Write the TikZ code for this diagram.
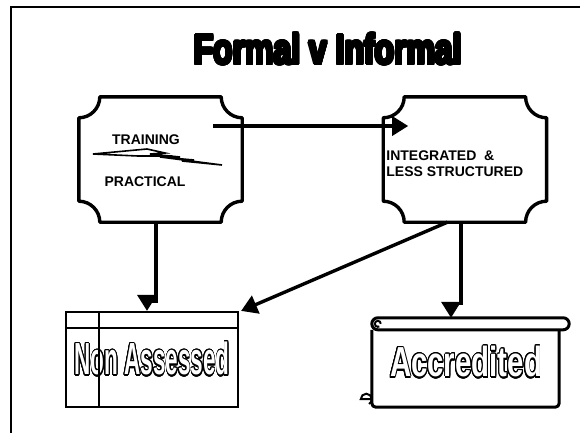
\documentclass[tikz,border=0pt]{standalone}
\usepackage{fontspec}
\setmainfont{Liberation Sans}
\usepackage{graphicx}
\usepackage{contour}
\usetikzlibrary{calc}
\usetikzlibrary{positioning}
\usetikzlibrary{arrows.meta}
\contournumber{24}
\tikzset{
	>={Triangle[length=16pt,width=19pt]},
	plaquebox/.style={
		rectangle,
		minimum width=163pt,
		minimum height=125pt,
		inner sep=0pt},
	plaqueline/.style={draw=black, line width=3.4pt, line join=round},
	boxtext/.style={font=\bfseries\fontsize{14}{16}\selectfont, inner sep=0pt},
	line/.style={draw, line width=3.4pt, ->},
	tablebox/.style={
		rectangle,
		draw=black, line width=2.2pt,
		minimum width=172pt,
		minimum height=95pt,
		inner sep=0pt},
	scrollbox/.style={
		rectangle,
		minimum width=186pt,
		minimum height=89pt,
		inner sep=0pt},
	scrollline/.style={draw=black, line width=3pt, line join=round},
	bigword/.style={inner sep=0pt, font=\bfseries},
}
% hollow letters for the box titles
\newcommand{\hollow}[1]{\contourlength{1.4pt}\contour{black}{\textcolor{white}{#1}}}
\newcommand{\solidword}[1]{\contourlength{1.8pt}\contour{black}{#1}}
% notched outline round a plaquebox
\newcommand{\drawplaque}[1]{%
	\draw[plaqueline] ($(#1.north west)+(21,0)$) -- ($(#1.north east)+(-21,0)$)
		arc[start angle=180,end angle=270,radius=21pt]
		-- ($(#1.south east)+(0,21)$)
		arc[start angle=90,end angle=180,radius=21pt]
		-- ($(#1.south west)+(21,0)$)
		arc[start angle=0,end angle=90,radius=21pt]
		-- ($(#1.north west)+(0,-21)$)
		arc[start angle=270,end angle=360,radius=21pt]
		-- cycle;}
% scroll outline round a scrollbox
\newcommand{\drawscroll}[1]{%
	\draw[scrollline, rounded corners=6pt] ($(#1.north west)+(-1,-12)$) rectangle ($(#1.north east)+(10,0)$);
	\draw[line width=2pt] ($(#1.north west)+(8,-6)$) arc[start angle=0,end angle=300,radius=3pt];
	\draw[scrollline, rounded corners=4pt] ($(#1.north west)+(-1,-12)$) -- ($(#1.south west)+(-1,0)$)
		-- ($(#1.south east)+(0,0)$) -- ($(#1.north east)+(0,-12)$);
	\draw[line width=2pt] ($(#1.south west)+(-1,8)$) -- ($(#1.south west)+(-12,8)$)
		arc[start angle=180,end angle=-60,radius=5.5pt];}

\begin{document}
\begin{tikzpicture}[x=1pt, y=1pt]
	\useasboundingbox (0,0) rectangle (580,432);
	\draw[line width=1.6pt] (11,-5) -- (11,425) -- (590,425);

	\node[bigword] (title) at (328,382) {\scalebox{0.76}[1]{\fontsize{42}{42}\selectfont\solidword{Formal v Informal}}};

	\node[plaquebox] (train) at (160.5,272.5) {};
	\node[plaquebox, right=141pt of train] (integ) {};
	\drawplaque{train}
	\drawplaque{integ}

	\node[boxtext] (trtext) at ([shift={(-14.5,19.5)}]train.center) {TRAINING};
	\node[boxtext] (prtext) at ([shift={(-15.5,-22.5)}]train.center) {PRACTICAL};
	\node[boxtext, align=left, anchor=west] (intext) at ([shift={(3,-4.5)}]integ.west) {INTEGRATED~~\&\\LESS STRUCTURED};

	% zigzag between the two words
	\draw[line width=1.6pt, line join=miter] (93,278) -- (147,283) -- (165,279) -- (150,278) -- (180,275) -- (168,274)
		-- (222,267) -- (182,271) -- (194,272) -- (160,275) -- (172,276) -- (138,276) -- cycle;

	\node[tablebox] (nonass) at (152,72.5) {\scalebox{0.5}[1]{\fontsize{45}{45}\selectfont\bfseries\hollow{Non Assessed}}};
	\draw[line width=2.2pt] ([yshift=-17]nonass.north west) -- ([yshift=-17]nonass.north east);
	\draw[line width=2.2pt] ([xshift=34]nonass.north west) -- ([xshift=34]nonass.south west);

	\node[scrollbox] (accred) at (466,69.5) {\scalebox{0.7}[1]{\fontsize{42}{42}\selectfont\bfseries\hollow{Accredited}}};
	\drawscroll{accred}

	\draw[line] ([shift={(-29,33.5)}]train.east) -- ([shift={(25,33.5)}]integ.west);
	\draw[line] ([xshift=-4.5]train.south) -- ++(0,-79) -| ([xshift=-5]nonass.north);
	\draw[line] ([xshift=-17.5]integ.south) -- ([xshift=2]nonass.north east);
	\draw[line] ([xshift=-4]integ.south) -- ++(0,-81) -| ([xshift=-15]accred.north);
\end{tikzpicture}
\end{document}
